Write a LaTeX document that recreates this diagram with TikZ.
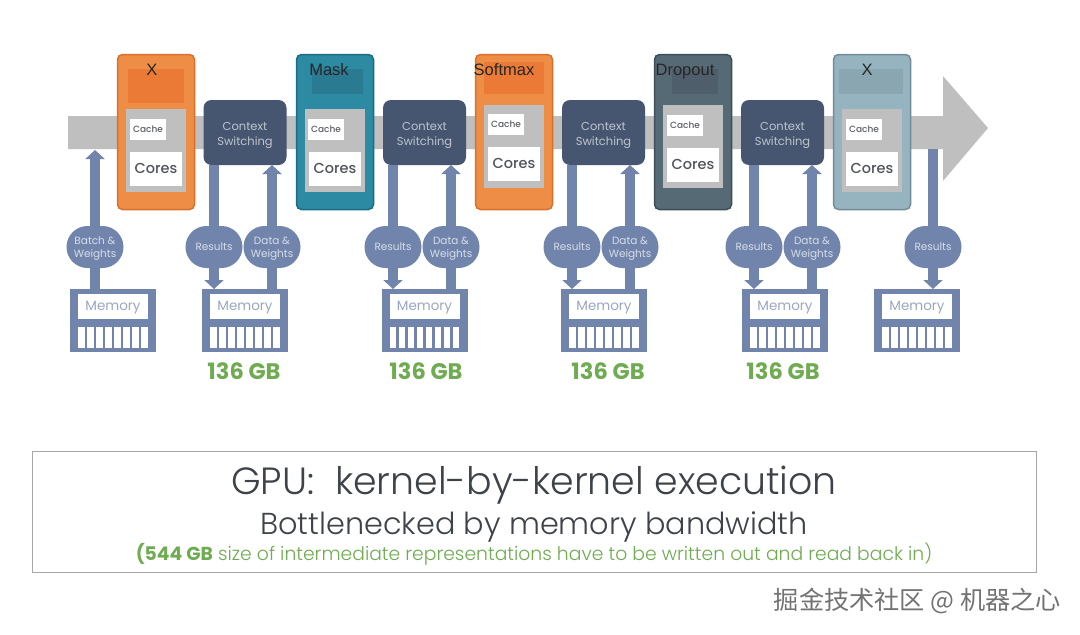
\documentclass[tikz,border=0pt]{standalone}
\usepackage{fontspec}
\setmainfont{Poppins}
\newfontfamily\labf{Liberation Sans}
\newfontfamily\cjk{Noto Sans CJK SC}
\newfontfamily\lite{Poppins Light}
\newfontfamily\med{Poppins Medium}
\usetikzlibrary{arrows.meta,shapes.geometric,calc}
\definecolor{flow}{HTML}{7185AC}
\definecolor{ctxb}{HTML}{465671}
\definecolor{band}{HTML}{BFBFBF}
\definecolor{gtxt}{HTML}{6FAB50}
\definecolor{dtxt}{HTML}{3E4349}
\definecolor{orf}{HTML}{EE8D45}\definecolor{ord}{HTML}{D9702A}\definecolor{ori}{HTML}{EA7A35}
\definecolor{tef}{HTML}{2C8AA3}\definecolor{ted}{HTML}{1B6C85}\definecolor{tei}{HTML}{2A7A92}
\definecolor{slf}{HTML}{566A76}\definecolor{sld}{HTML}{3D4E59}\definecolor{sli}{HTML}{4E5F6B}
\definecolor{lbf}{HTML}{96B4BF}\definecolor{lbd}{HTML}{6F8C98}\definecolor{lbi}{HTML}{8AA6B0}
\newcommand{\dn}[2]{\raisebox{-#1}[\height][\depth]{\begin{tabular}{@{}c@{}}#2\end{tabular}}}
\tikzset{
 x=1pt,y=-1pt,
 every node/.style={inner sep=0pt,outer sep=0pt},
 chip/.style={draw,line width=1.5pt,rounded corners=5pt,minimum width=77pt,minimum height=155pt},
 greybox/.style={fill=band,minimum width=60pt,minimum height=83pt},
 cachebox/.style={fill=white,minimum width=36pt,minimum height=21pt,font=\med\fontsize{9}{9}\selectfont,text=dtxt!85},
 coresbox/.style={fill=white,minimum width=52pt,minimum height=34pt,font=\med\fontsize{14.5}{14.5}\selectfont,text=dtxt!90},
 ctx/.style={fill=ctxb,rounded corners=8pt,minimum width=83pt,minimum height=65pt,text=white!65!ctxb,font=\fontsize{11.5}{15}\selectfont},
 bubble/.style={rounded corners=21pt,fill=flow,minimum width=57pt,minimum height=42pt,text=white!72!flow,font=\fontsize{10.5}{13}\selectfont},
 membox/.style={fill=flow,minimum width=86pt,minimum height=63pt},
 memlab/.style={fill=white,minimum width=70pt,minimum height=25pt,text=flow!72,font=\fontsize{13.5}{13.5}\selectfont},
 slat/.style={fill=white,minimum width=6.5pt,minimum height=21pt},
 flowline/.style={draw=flow,line width=9.5pt},
 flowarrow/.style={flow,line width=9.5pt,-{Triangle[length=9pt,width=19pt]}},
 chiplab/.style={anchor=base,text=black!85,font=\labf\fontsize{16.5}{16.5}\selectfont},
 gb/.style={text=gtxt,font=\bfseries\fontsize{22.5}{22.5}\selectfont},
}
\newcommand{\memunit}[2]{%
 \node[membox] (#1) at (#2,320.5) {};
 \node[memlab] (#1t) at (#2,306.5) {\dn{1.5pt}{Memory}};
 \foreach \i in {0,...,7}{\node[slat] (#1s\i) at ($(#2,337.5)+(-31.5+\i*9,0)$) {};}
}
\begin{document}
\begin{tikzpicture}
\useasboundingbox (0,0) rectangle (1080,635);
\fill[white] (0,0) rectangle (1080,635);
\fill[band] (68,116) -- (943,116) -- (943,76) -- (988,128) -- (943,181) -- (943,149) -- (68,149) -- cycle;

\memunit{m1}{113}
\memunit{m2}{245}
\memunit{m3}{424.5}
\memunit{m4}{604}
\memunit{m5}{785}
\memunit{m6}{917}

\foreach \n/\cx/\f/\d/\ii/\ia/\ib/\it/\ic/\gy/\cy/\cxx in {
 c1/156/orf/ord/ori/128/184/69/103/150.5/129/148,
 c2/335/tef/ted/tei/312/363/69/94/150.5/129/326,
 c3/514/orf/ord/ori/484/544/62/94/146/124/506,
 c4/693/slf/sld/sli/672/718/69/94/146/125/685,
 c5/872/lbf/lbd/lbi/839/903/69/94/150.5/129/864}{
 \node[chip,fill=\f,draw=\d] (\n) at (\cx,132) {};
 \fill[\ii] (\ia,\it) rectangle (\ib,\ic);
 \node[greybox] (\n g) at (\cx,\gy) {};
 \node[cachebox] (\n a) at (\cxx,\cy) {Cache};
 \node[coresbox] (\n b) at (\cx,\cy+39.5) {Cores};
}
\node[chiplab] (l1) at (152,75) {X};
\node[chiplab] (l2) at (329,75) {Mask};
\node[chiplab] (l3) at (504,75) {Softmax};
\node[chiplab] (l4) at (685,75) {Dropout};
\node[chiplab] (l5) at (867,75) {X};

\foreach \n/\cx in {s1/245,s2/424.5,s3/603.5,s4/782.5}{
 \node[ctx] (\n) at (\cx,132.5) {\dn{2.5pt}{Context\\Switching}};
}

\node[bubble] (b0) at (95,247) {\dn{1.5pt}{Batch \&\\Weights}};
\node[bubble] (r1) at (214,247) {\dn{1pt}{Results}};
\node[bubble] (d1) at (272,247) {\dn{1.5pt}{Data \&\\Weights}};
\node[bubble] (r2) at (393,247) {\dn{1pt}{Results}};
\node[bubble] (d2) at (451,247) {\dn{1.5pt}{Data \&\\Weights}};
\node[bubble] (r3) at (572,247) {\dn{1pt}{Results}};
\node[bubble] (d3) at (630,247) {\dn{1.5pt}{Data \&\\Weights}};
\node[bubble] (r4) at (754,247) {\dn{1pt}{Results}};
\node[bubble] (d4) at (812,247) {\dn{1.5pt}{Data \&\\Weights}};
\node[bubble] (r5) at (933,247) {\dn{1pt}{Results}};

\coordinate (bandpt) at (95,150);
\coordinate (bandpe) at (933,149);
\draw[flowarrow] (b0.north) -- (bandpt);
\draw[flowline] (b0.south) -- (b0.south |- m1.north);
\foreach \r/\d/\s/\m in {r1/d1/s1/m2,r2/d2/s2/m3,r3/d3/s3/m4,r4/d4/s4/m5}{
 \draw[flowline] (\r.north) -- (\r.north |- \s.south);
 \draw[flowarrow] (\r.south) -- (\r.south |- \m.north);
 \draw[flowline] (\d.south) -- (\d.south |- \m.north);
 \draw[flowarrow] (\d.north) -- (\d.north |- \s.south);
}
\draw[flowline] (r5.north) -- (bandpe);
\draw[flowarrow] (r5.south) -- (r5.south |- m6.north);

\node[gb] (g1) at (244,371) {136 GB};
\node[gb] (g2) at (426,371) {136 GB};
\node[gb] (g3) at (608,371) {136 GB};
\node[gb] (g4) at (783,371) {136 GB};

\node[draw=black!35,line width=1pt,minimum width=1004pt,minimum height=121pt] (cap) at (534,512) {};
\node[text=dtxt,font=\lite\fontsize{37.9}{37.9}\selectfont] (t1) at (534,485) {GPU:\ \ kernel-by-kernel execution};
\node[text=dtxt,font=\lite\fontsize{30.3}{30.3}\selectfont] (t2) at (534,527) {Bottlenecked by memory bandwidth};
\node[text=gtxt,font=\lite\fontsize{18.75}{18.75}\selectfont] (t3) at (534,554.5) {{\fontspec{Poppins}\bfseries(544 GB} size of intermediate representations have to be written out and read back in)};

\node[text=black!55,font=\cjk\fontsize{25.2}{25.2}\selectfont] (wm) at (917.5,601) {掘金技术社区 @ 机器之心};
\end{tikzpicture}
\end{document}
